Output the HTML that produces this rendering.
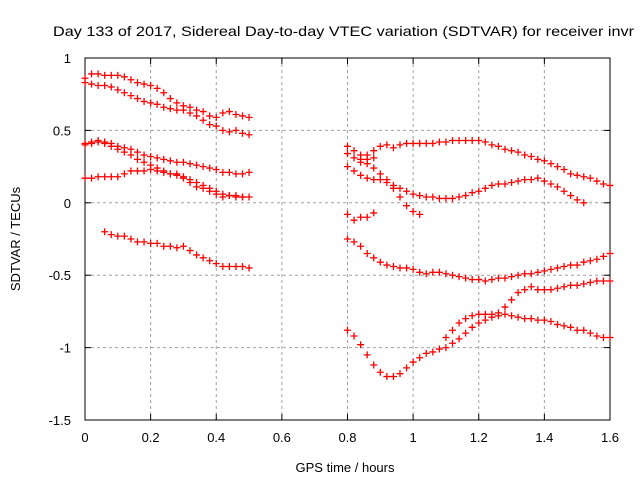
<!DOCTYPE html>
<html><head><meta charset="utf-8"><style>
body{margin:0;background:#fff}
svg{display:block;font-family:"Liberation Sans",sans-serif}
</style></head><body>
<svg id="chart" width="640" height="480" viewBox="0 0 640 480">
<rect width="640" height="480" fill="#fff"/>
<text x="53" y="36" font-size="14" fill="#000" textLength="581" lengthAdjust="spacingAndGlyphs">Day 133 of 2017, Sidereal Day-to-day VTEC variation (SDTVAR) for receiver invr</text>
<g id="grid"></g>
<g id="axes"></g>
<g id="marks"></g>
<text x="345" y="472" font-size="13" text-anchor="middle">GPS time / hours</text>
<text transform="translate(20,239) rotate(-90)" font-size="13" text-anchor="middle">SDTVAR / TECUs</text>
</svg>
<script>
const xTicks=[0,0.2,0.4,0.6,0.8,1,1.2,1.4,1.6];
const xTickLabels=["0","0.2","0.4","0.6","0.8","1","1.2","1.4","1.6"];
const yTicks=[1,0.5,0,-0.5,-1,-1.5];
const yTickLabels=["1","0.5","0","-0.5","-1","-1.5"];
const sampleStep=0.02;
const trackStarts=[0,0,0,0,0,0.06,0.8,0.8,0.8,0.84,0.8,0.8,0.8,1.1];
const trackA=[0.86,0.89,0.89,0.88,0.88,0.88,0.87,0.85,0.83,0.82,0.81,0.79,0.76,0.72,0.69,0.67,0.66,0.64,0.63,0.6,0.59,0.62,0.63,0.61,0.6,0.59];
const trackB=[0.83,0.82,0.81,0.81,0.8,0.78,0.76,0.74,0.72,0.7,0.69,0.68,0.66,0.65,0.64,0.64,0.62,0.6,0.57,0.54,0.53,0.5,0.49,0.5,0.48,0.47];
const trackC=[0.41,0.42,0.43,0.42,0.41,0.39,0.38,0.37,0.35,0.33,0.32,0.31,0.3,0.29,0.28,0.28,0.27,0.26,0.25,0.24,0.23,0.21,0.21,0.2,0.2,0.21];
const trackD=[0.4,0.41,0.42,0.41,0.39,0.37,0.35,0.33,0.3,0.28,0.26,0.24,0.22,0.2,0.19,0.17,0.14,0.11,0.1,0.08,0.06,0.04,0.05,0.05,0.04,0.04];
const trackE=[0.17,0.17,0.18,0.18,0.18,0.18,0.2,0.22,0.22,0.22,0.23,0.22,0.21,0.2,0.2,0.18,0.16,0.14,0.12,0.1,0.08,0.06,0.05,0.04,0.04];
const trackF=[-0.2,-0.22,-0.23,-0.23,-0.25,-0.27,-0.27,-0.28,-0.28,-0.3,-0.3,-0.31,-0.3,-0.33,-0.36,-0.38,-0.4,-0.42,-0.44,-0.44,-0.44,-0.44,-0.45];
const trackG=[0.39,0.36,0.33,0.33,0.36,0.39,0.4,0.38,0.4,0.41,0.41,0.41,0.41,0.41,0.42,0.42,0.43,0.43,0.43,0.43,0.43,0.42,0.4,0.39,0.37,0.36,0.35,0.33,0.32,0.3,0.29,0.27,0.25,0.23,0.2,0.19,0.18,0.17,0.15,0.13,0.12];
const trackH1=[0.34,0.31,0.3,0.3,0.31];
const trackH2=[0.25,0.22,0.19,0.17,0.16,0.16,0.14,0.12,0.1,0.08,0.06,0.05,0.04,0.04,0.03,0.03,0.03,0.04,0.05,0.07,0.08,0.1,0.12,0.13,0.13,0.14,0.15,0.16,0.16,0.17,0.15,0.13,0.11,0.08,0.05,0.02,0.0];
const trackH3=[0.28,0.27,0.24,0.2,0.16,0.1,0.04,-0.02,-0.06,-0.08];
const trackH4=[-0.08,-0.12,-0.1,-0.1,-0.07];
const trackI=[-0.25,-0.27,-0.3,-0.35,-0.38,-0.41,-0.43,-0.44,-0.45,-0.45,-0.46,-0.48,-0.49,-0.48,-0.48,-0.49,-0.5,-0.51,-0.52,-0.53,-0.53,-0.54,-0.53,-0.52,-0.52,-0.51,-0.5,-0.49,-0.49,-0.48,-0.47,-0.46,-0.45,-0.44,-0.43,-0.43,-0.41,-0.4,-0.39,-0.37,-0.35];
const trackJ=[-0.88,-0.92,-0.98,-1.05,-1.12,-1.17,-1.2,-1.2,-1.18,-1.14,-1.1,-1.07,-1.04,-1.03,-1.01,-1.0,-0.97,-0.94,-0.9,-0.86,-0.83,-0.81,-0.79,-0.78,-0.77,-0.78,-0.79,-0.8,-0.8,-0.81,-0.81,-0.82,-0.84,-0.85,-0.86,-0.88,-0.88,-0.9,-0.92,-0.93,-0.93];
const trackK=[-0.93,-0.88,-0.83,-0.8,-0.78,-0.77,-0.77,-0.77,-0.76,-0.72,-0.67,-0.62,-0.6,-0.58,-0.6,-0.6,-0.6,-0.59,-0.58,-0.57,-0.57,-0.56,-0.55,-0.54,-0.54,-0.54];
const tracks=[trackA,trackB,trackC,trackD,trackE,trackF,trackG,trackH1,trackH2,trackH3,trackH4,trackI,trackJ,trackK];

const L=85,R=610,T=58,B=420,xMin=0,xMax=1.6,yMin=-1.5,yMax=1;
const sx=v=>L+(v-xMin)/(xMax-xMin)*(R-L);
const sy=v=>B-(v-yMin)/(yMax-yMin)*(B-T);
const NS="http://www.w3.org/2000/svg";
function mk(tag,attrs,parent){const e=document.createElementNS(NS,tag);for(const k in attrs)e.setAttribute(k,attrs[k]);parent.appendChild(e);return e;}
const grid=document.getElementById('grid'),axes=document.getElementById('axes'),marks=document.getElementById('marks');
xTicks.forEach((t,i)=>{
  const x=sx(t);
  if(i>0&&i<xTicks.length-1){const g=mk('line',{x1:x,x2:x,y1:T,y2:B,stroke:'#a0a0a0','stroke-dasharray':'3,3'},grid);
  
  }
  mk('line',{x1:x,x2:x,y1:B,y2:B-6,stroke:'#000'},axes);
  mk('line',{x1:x,x2:x,y1:T,y2:T+6,stroke:'#000'},axes);
  const tx=mk('text',{x:x,y:B+22,'font-size':13,'text-anchor':'middle'},axes);
  tx.textContent=xTickLabels[i];
  
  
});
yTicks.forEach((t,i)=>{
  const y=sy(t);
  if(i>0&&i<yTicks.length-1){const g=mk('line',{x1:L,x2:R,y1:y,y2:y,stroke:'#a0a0a0','stroke-dasharray':'3,3'},grid);
  
  }
  mk('line',{x1:L,x2:L+6,y1:y,y2:y,stroke:'#000'},axes);
  mk('line',{x1:R,x2:R-6,y1:y,y2:y,stroke:'#000'},axes);
  const tx=mk('text',{x:L-14,y:y+5,'font-size':13,'text-anchor':'end'},axes);
  tx.textContent=yTickLabels[i];
  
  
});
const frame=mk('rect',{x:L,y:T,width:R-L,height:B-T,fill:'none',stroke:'#000','stroke-width':1},axes);


tracks.forEach((vals,k)=>{
  vals.forEach((v,i)=>{
    const t=trackStarts[k]+i*sampleStep;
    const x=sx(t),y=sy(v);
    const p=mk('path',{d:`M${x-3.5},${y}h7M${x},${y-3.5}v7`,stroke:'#f00','stroke-width':1.3,fill:'none'},marks);
    
    
  });
});
</script>
</body></html>
